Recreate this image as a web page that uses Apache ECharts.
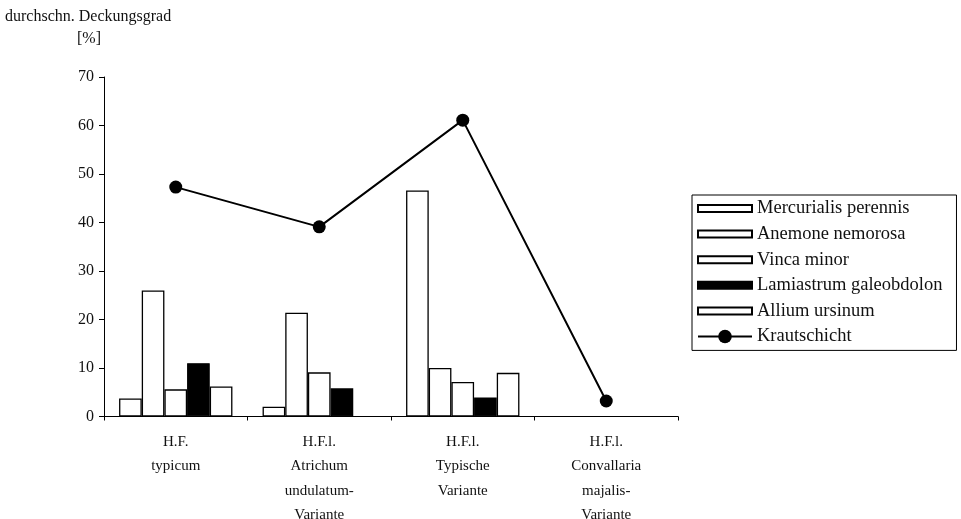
<!DOCTYPE html>
<html>
<head>
<meta charset="utf-8">
<script src="https://cdn.jsdelivr.net/npm/echarts@6/dist/echarts.min.js"></script>
<style>
  html, body { margin: 0; padding: 0; background: #fff; overflow: hidden; }
  #main { width: 961px; height: 519px; }
</style>
</head>
<body>
<div id="main"></div>
<script>
const chart = echarts.init(document.getElementById("main"));

// Daten
const categories = [
    "H.F.\ntypicum",
    "H.F.l.\nAtrichum\nundulatum-\nVariante",
    "H.F.l.\nTypische\nVariante",
    "H.F.l.\nConvallaria\nmajalis-\nVariante"
];
// null = kein Balken
const mercurialis = [3.7, 2.0, 46.6, null];
const anemone = [26.0, 21.4, 10.0, null];
const vinca = [5.6, 9.1, 7.1, null];
const lamiastrum = [11.0, 5.8, 3.9, null];
const allium = [6.2, null, 9.0, null];
const krautschicht = [47.3, 39.1, 61.1, 3.2];
const yTicks = [0, 70, 10];

const serif = "Liberation Serif";
const legendText = { fontFamily: serif, fontSize: 18.5, color: "#111", lineHeight: 18 };

// gemeinsame Balken-Serie
function barSeries(name, data, fill) {
    return {
        name: name,
        type: "bar",
        data: data,
        barGap: "0%",
        barCategoryGap: "21%",
        itemStyle: {
            color: fill,
            borderColor: "#000",
            borderWidth: 1.3
        }
    };
}

let option = {
    backgroundColor: "#fff",
    animation: false,
    title: [
        {
            text: "durchschn. Deckungsgrad",
            left: 0,
            top: 4,
            textStyle: { fontFamily: serif, fontSize: 16, fontWeight: "normal", color: "#111" }
        },
        {
            text: "[%]",
            left: 72,
            top: 26,
            textStyle: { fontFamily: serif, fontSize: 16, fontWeight: "normal", color: "#111" }
        }
    ],
    legend: [
        {
            // Balken + Rahmen
            orient: "vertical",
            left: 692,
            top: 195,
            padding: [4, 14, 30, 5],
            itemGap: 6.6,
            itemWidth: 54,
            itemHeight: 7,
            borderColor: "#000",
            borderWidth: 1,
            textStyle: legendText,
            data: [
                { name: "Mercurialis perennis", icon: "rect" },
                { name: "Anemone nemorosa", icon: "rect" },
                { name: "Vinca minor", icon: "rect" },
                { name: "Lamiastrum galeobdolon", icon: "rect" },
                { name: "Allium ursinum", icon: "rect" }
            ]
        },
        {
            // Linie mit grossem Punkt
            orient: "vertical",
            left: 697,
            top: 327,
            padding: 0,
            itemWidth: 54,
            itemHeight: 17,
            textStyle: legendText,
            data: ["Krautschicht"]
        }
    ],
    grid: {
        left: 104,
        top: 77,
        width: 574,
        height: 339.5,
        outerBoundsMode: "none",
        containLabel: false
    },
    xAxis: {
        type: "category",
        data: categories,
        axisLine: { lineStyle: { color: "#000", width: 1 } },
        axisTick: { show: true, length: 4, lineStyle: { color: "#000" } },
        axisLabel: {
            fontFamily: serif,
            fontSize: 15,
            color: "#111",
            lineHeight: 24.5,
            margin: 13
        }
    },
    yAxis: {
        type: "value",
        min: yTicks[0],
        max: yTicks[1],
        interval: yTicks[2],
        splitLine: { show: false },
        axisLine: { show: true, lineStyle: { color: "#000", width: 1 } },
        axisTick: { show: true, length: 5, lineStyle: { color: "#000" } },
        axisLabel: { fontFamily: serif, fontSize: 16, color: "#111", margin: 10 }
    },
    series: [
        barSeries("Mercurialis perennis", mercurialis, "#fff"),
        barSeries("Anemone nemorosa", anemone, "#fff"),
        barSeries("Vinca minor", vinca, "#fff"),
        barSeries("Lamiastrum galeobdolon", lamiastrum, "#000"),
        barSeries("Allium ursinum", allium, "#fff"),
        {
            name: "Krautschicht",
            type: "line",
            data: krautschicht,
            symbol: "circle",
            symbolSize: 13,
            lineStyle: { color: "#000", width: 2 },
            itemStyle: { color: "#000" },
            z: 5
        }
    ]
};

chart.setOption(option);
</script>
</body>
</html>
